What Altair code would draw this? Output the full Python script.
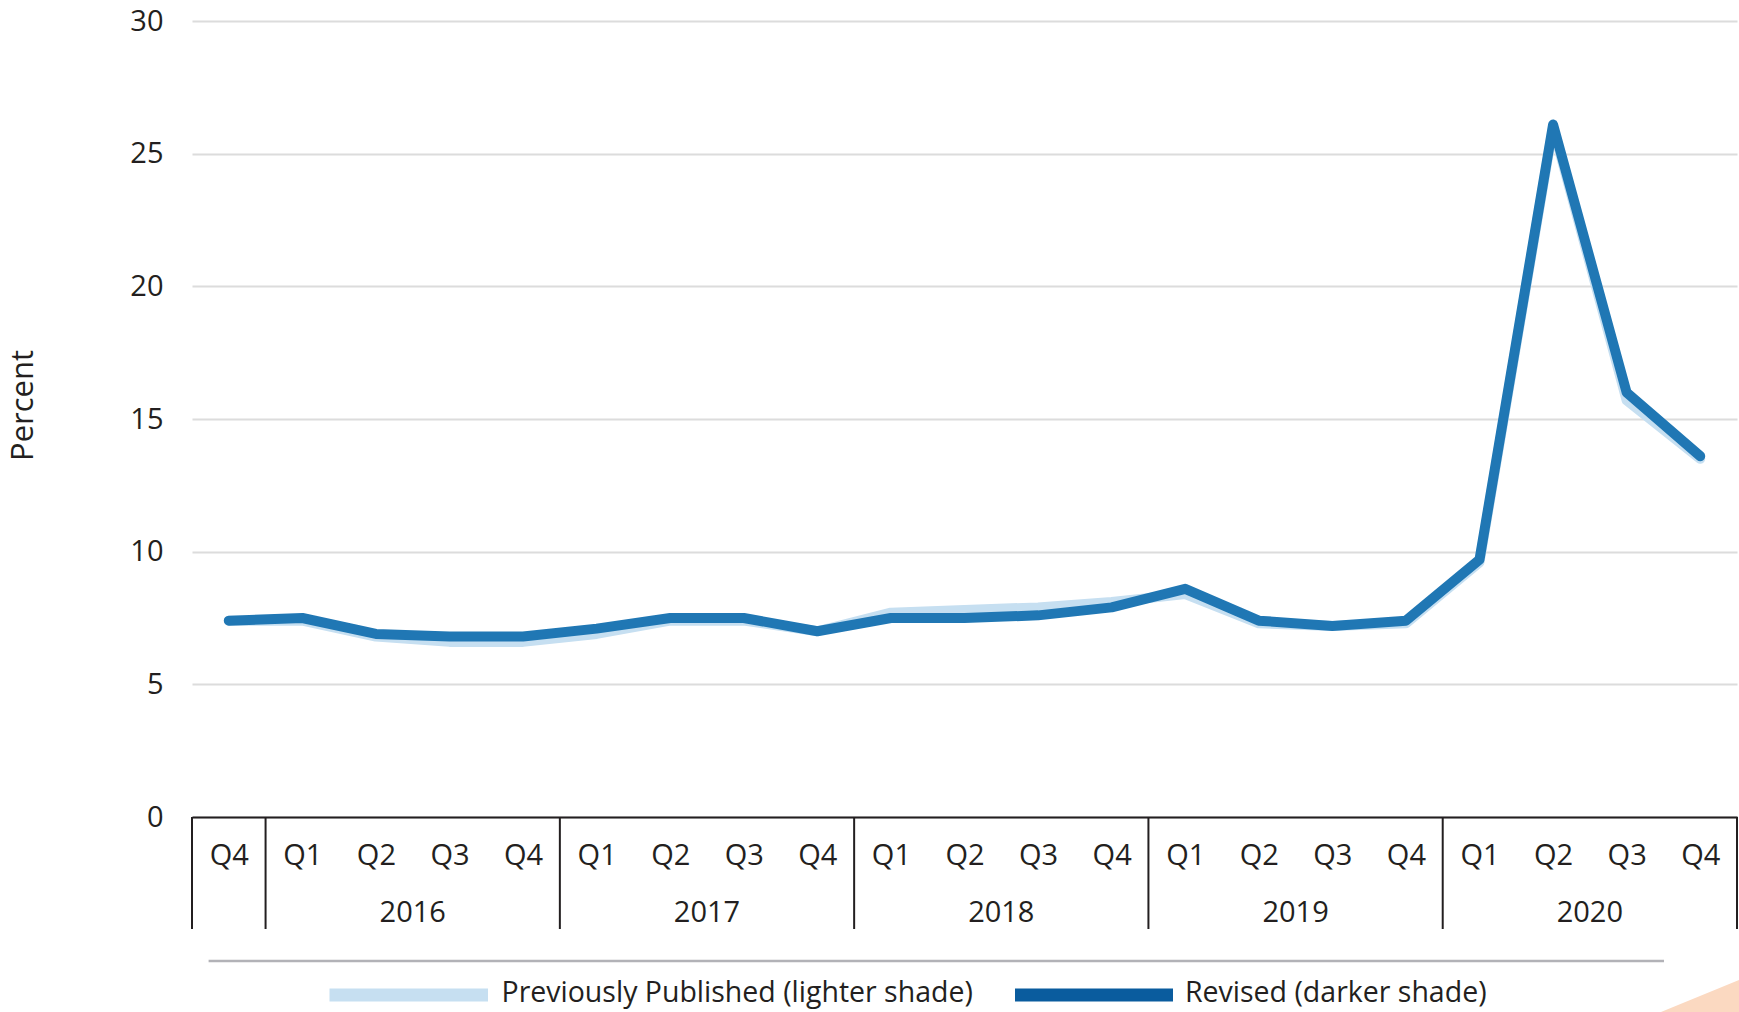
import altair as alt
import pandas as pd

# ---- data ----
quarters = ["Q4", "Q1", "Q2", "Q3", "Q4", "Q1", "Q2", "Q3", "Q4", "Q1", "Q2",
            "Q3", "Q4", "Q1", "Q2", "Q3", "Q4", "Q1", "Q2", "Q3", "Q4"]
years = [2015, 2016, 2016, 2016, 2016, 2017, 2017, 2017, 2017, 2018, 2018,
         2018, 2018, 2019, 2019, 2019, 2019, 2020, 2020, 2020, 2020]
revised = [7.4, 7.5, 6.9, 6.8, 6.8, 7.1, 7.5, 7.5, 7.0, 7.5, 7.5,
           7.6, 7.9, 8.6, 7.4, 7.2, 7.4, 9.7, 26.1, 16.0, 13.6]
previous = [7.4, 7.4, 6.8, 6.6, 6.6, 6.9, 7.4, 7.4, 7.0, 7.7, 7.8,
            7.9, 8.1, 8.4, 7.3, 7.2, 7.3, 9.6, 26.0, 15.7, 13.5]
y_ticks = [0, 5, 10, 15, 20, 25, 30]
legend_labels = ["Previously Published (lighter shade)", "Revised (darker shade)"]

FONT = "Open Sans"
TXT = "#231f20"
FS = 29
LEG_FS = 28.5

df = pd.DataFrame({"idx": list(range(len(quarters))), "q": quarters, "year": years,
                   "revised": revised, "previous": previous})

# year groups: label at the middle of each full year, separators at group edges
grp = df.groupby("year")["idx"].agg(["min", "max", "count"]).reset_index()
year_df = grp[grp["count"] == 4].copy()
year_df["mid"] = (year_df["min"] + year_df["max"]) / 2
year_df["label"] = year_df["year"].astype(str)
bounds = sorted(set([m - 0.5 for m in grp["min"]] + [grp["max"].max() + 0.5]))
bound_df = pd.DataFrame({"b": bounds})
legend_df = pd.DataFrame({"key": ["prev", "rev"], "label": legend_labels})
one_df = pd.DataFrame({"k": [0]})

xscale = alt.Scale(domain=[-0.5, len(quarters) - 0.5], nice=False, zero=False)
yscale = alt.Scale(domain=[0, 30], nice=False)

label_expr = "[" + ",".join(f"'{q}'" for q in quarters) + "][datum.value]"

x_axis = alt.Axis(values=list(range(len(quarters))), labelExpr=label_expr,
                  grid=False, ticks=False, tickSize=0, domain=True,
                  domainColor=TXT, domainWidth=2, labelFontSize=FS,
                  labelFont=FONT, labelColor=TXT, labelBaseline="middle",
                  labelPadding=38, labelFlush=False, labelOverlap=False,
                  labelAngle=0, title=None)
y_axis = alt.Axis(values=y_ticks, grid=True, gridColor="#dcdcdc", gridWidth=2,
                  domain=False, ticks=False, tickSize=0, labelFontSize=FS,
                  labelFont=FONT, labelColor=TXT, labelPadding=29,
                  title="Percent", titleFont=FONT, titleFontSize=31,
                  titleFontWeight="normal", titleColor=TXT, titleAngle=270,
                  titleX=-169, titleY=384, titleAlign="center",
                  titleBaseline="middle")

base = alt.Chart(df)

prev_line = base.mark_line(color="#c6dff1", strokeWidth=10, strokeCap="round",
                           strokeJoin="round").encode(
    x=alt.X("idx:Q", scale=xscale, axis=x_axis, title=None),
    y=alt.Y("previous:Q", scale=yscale, axis=y_axis, title="Percent"),
)
rev_line = base.mark_line(color="#2077b4", strokeWidth=10, strokeCap="round",
                          strokeJoin="round").encode(
    x=alt.X("idx:Q", scale=xscale, axis=x_axis, title=None),
    y=alt.Y("revised:Q", scale=yscale, axis=y_axis, title="Percent"),
)

separators = alt.Chart(bound_df).mark_rule(color=TXT, strokeWidth=2).encode(
    x=alt.X("b:Q", scale=xscale, axis=x_axis, title=None),
    y=alt.value(796), y2=alt.value(908),
)

year_text = alt.Chart(year_df).mark_text(font=FONT, fontSize=FS, color=TXT,
                                         baseline="middle", align="center").encode(
    x=alt.X("mid:Q", scale=xscale, axis=x_axis, title=None),
    y=alt.value(892),
    text="label:N",
)

divider = alt.Chart(one_df).mark_rule(color="#b2b2b7", strokeWidth=2.5).encode(
    x=alt.value(16.6), x2=alt.value(1472), y=alt.value(940),
)

leg_prev_sw = alt.Chart(legend_df).transform_filter("datum.key == 'prev'").mark_rule(
    color="#c6dff1", strokeWidth=13, strokeCap="butt").encode(
    x=alt.value(137.5), x2=alt.value(296), y=alt.value(974))
leg_prev_tx = alt.Chart(legend_df).transform_filter("datum.key == 'prev'").mark_text(
    font=FONT, fontSize=LEG_FS, color=TXT, align="left", baseline="middle").encode(
    x=alt.value(309.5), y=alt.value(972), text="label:N")
leg_rev_sw = alt.Chart(legend_df).transform_filter("datum.key == 'rev'").mark_rule(
    color="#0a5c9e", strokeWidth=13, strokeCap="butt").encode(
    x=alt.value(823), x2=alt.value(981), y=alt.value(974))
leg_rev_tx = alt.Chart(legend_df).transform_filter("datum.key == 'rev'").mark_text(
    font=FONT, fontSize=LEG_FS, color=TXT, align="left", baseline="middle").encode(
    x=alt.value(993), y=alt.value(972), text="label:N")

corner = alt.Chart(one_df).mark_point(shape="M-1,1L1,0.18L1,1Z", size=6084,
                                      filled=True, color="#fbd9c1", opacity=1,
                                      strokeWidth=0).encode(
    x=alt.value(1508), y=alt.value(952))

chart = alt.layer(
    prev_line, rev_line, separators, year_text, divider,
    leg_prev_sw, leg_prev_tx, leg_rev_sw, leg_rev_tx, corner,
).properties(
    width=1545, height=796,
    autosize=alt.AutoSizeParams(type="none"),
    padding={"left": 192, "top": 21, "right": 2, "bottom": 195},
    background="white",
).configure_view(stroke=None)

chart.save("out.html", embed_options={"renderer": "svg", "actions": False})
